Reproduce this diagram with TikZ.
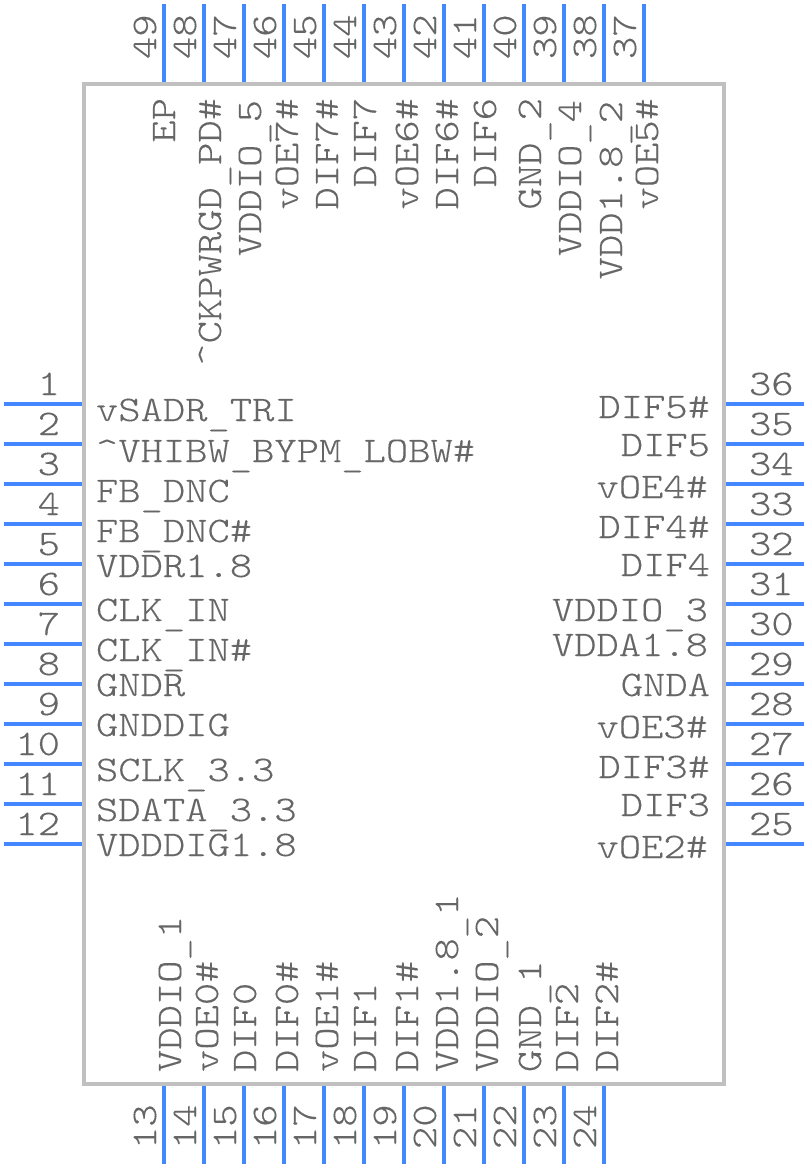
\documentclass[tikz,border=0pt]{standalone}
\usepackage{fontspec}
\usepackage{tikz}
\newfontfamily\pinfont{Latin Modern Mono Light}[FakeStretch=1.18,FakeBold=0.25]
\newcommand{\usc}{\raisebox{-4pt}{\_}}
\definecolor{pinblue}{HTML}{4488FF}
\definecolor{bodygray}{HTML}{C0C0C0}
\definecolor{textgray}{HTML}{666666}
\tikzset{
  pinline/.style={draw=pinblue, line width=4pt},
  body/.style={draw=bodygray, line width=4pt, minimum width=640pt, minimum height=1000pt, inner sep=0pt},
  lbl/.style={text=textgray, inner sep=0pt, outer sep=0pt, font=\pinfont\fontsize{36}{36}\selectfont},
  numl/.style={lbl, anchor=base east},
  numr/.style={lbl, anchor=base west},
  numv/.style={lbl, anchor=base west, rotate=90},
  namel/.style={lbl, anchor=base west},
  namer/.style={lbl, anchor=base east},
  namet/.style={lbl, anchor=base east, rotate=90},
  nameb/.style={lbl, anchor=base west, rotate=90}
}
\begin{document}
\begin{tikzpicture}[x=1pt, y=-1pt]
\useasboundingbox (0,0) rectangle (808,1168);
% left pins
\coordinate (a1) at (4,404); \coordinate (b1) at (84,404); \draw[pinline] (a1) -- (b1);
\coordinate (a2) at (4,444); \coordinate (b2) at (84,444); \draw[pinline] (a2) -- (b2);
\coordinate (a3) at (4,484); \coordinate (b3) at (84,484); \draw[pinline] (a3) -- (b3);
\coordinate (a4) at (4,524); \coordinate (b4) at (84,524); \draw[pinline] (a4) -- (b4);
\coordinate (a5) at (4,564); \coordinate (b5) at (84,564); \draw[pinline] (a5) -- (b5);
\coordinate (a6) at (4,604); \coordinate (b6) at (84,604); \draw[pinline] (a6) -- (b6);
\coordinate (a7) at (4,644); \coordinate (b7) at (84,644); \draw[pinline] (a7) -- (b7);
\coordinate (a8) at (4,684); \coordinate (b8) at (84,684); \draw[pinline] (a8) -- (b8);
\coordinate (a9) at (4,724); \coordinate (b9) at (84,724); \draw[pinline] (a9) -- (b9);
\coordinate (a10) at (4,764); \coordinate (b10) at (84,764); \draw[pinline] (a10) -- (b10);
\coordinate (a11) at (4,804); \coordinate (b11) at (84,804); \draw[pinline] (a11) -- (b11);
\coordinate (a12) at (4,844); \coordinate (b12) at (84,844); \draw[pinline] (a12) -- (b12);
% bottom pins
\coordinate (a13) at (164,1164); \coordinate (b13) at (164,1084); \draw[pinline] (a13) -- (b13);
\coordinate (a14) at (204,1164); \coordinate (b14) at (204,1084); \draw[pinline] (a14) -- (b14);
\coordinate (a15) at (244,1164); \coordinate (b15) at (244,1084); \draw[pinline] (a15) -- (b15);
\coordinate (a16) at (284,1164); \coordinate (b16) at (284,1084); \draw[pinline] (a16) -- (b16);
\coordinate (a17) at (324,1164); \coordinate (b17) at (324,1084); \draw[pinline] (a17) -- (b17);
\coordinate (a18) at (364,1164); \coordinate (b18) at (364,1084); \draw[pinline] (a18) -- (b18);
\coordinate (a19) at (404,1164); \coordinate (b19) at (404,1084); \draw[pinline] (a19) -- (b19);
\coordinate (a20) at (444,1164); \coordinate (b20) at (444,1084); \draw[pinline] (a20) -- (b20);
\coordinate (a21) at (484,1164); \coordinate (b21) at (484,1084); \draw[pinline] (a21) -- (b21);
\coordinate (a22) at (524,1164); \coordinate (b22) at (524,1084); \draw[pinline] (a22) -- (b22);
\coordinate (a23) at (564,1164); \coordinate (b23) at (564,1084); \draw[pinline] (a23) -- (b23);
\coordinate (a24) at (604,1164); \coordinate (b24) at (604,1084); \draw[pinline] (a24) -- (b24);
% right pins
\coordinate (a25) at (804,844); \coordinate (b25) at (724,844); \draw[pinline] (a25) -- (b25);
\coordinate (a26) at (804,804); \coordinate (b26) at (724,804); \draw[pinline] (a26) -- (b26);
\coordinate (a27) at (804,764); \coordinate (b27) at (724,764); \draw[pinline] (a27) -- (b27);
\coordinate (a28) at (804,724); \coordinate (b28) at (724,724); \draw[pinline] (a28) -- (b28);
\coordinate (a29) at (804,684); \coordinate (b29) at (724,684); \draw[pinline] (a29) -- (b29);
\coordinate (a30) at (804,644); \coordinate (b30) at (724,644); \draw[pinline] (a30) -- (b30);
\coordinate (a31) at (804,604); \coordinate (b31) at (724,604); \draw[pinline] (a31) -- (b31);
\coordinate (a32) at (804,564); \coordinate (b32) at (724,564); \draw[pinline] (a32) -- (b32);
\coordinate (a33) at (804,524); \coordinate (b33) at (724,524); \draw[pinline] (a33) -- (b33);
\coordinate (a34) at (804,484); \coordinate (b34) at (724,484); \draw[pinline] (a34) -- (b34);
\coordinate (a35) at (804,444); \coordinate (b35) at (724,444); \draw[pinline] (a35) -- (b35);
\coordinate (a36) at (804,404); \coordinate (b36) at (724,404); \draw[pinline] (a36) -- (b36);
% top pins
\coordinate (a37) at (644,4); \coordinate (b37) at (644,84); \draw[pinline] (a37) -- (b37);
\coordinate (a38) at (604,4); \coordinate (b38) at (604,84); \draw[pinline] (a38) -- (b38);
\coordinate (a39) at (564,4); \coordinate (b39) at (564,84); \draw[pinline] (a39) -- (b39);
\coordinate (a40) at (524,4); \coordinate (b40) at (524,84); \draw[pinline] (a40) -- (b40);
\coordinate (a41) at (484,4); \coordinate (b41) at (484,84); \draw[pinline] (a41) -- (b41);
\coordinate (a42) at (444,4); \coordinate (b42) at (444,84); \draw[pinline] (a42) -- (b42);
\coordinate (a43) at (404,4); \coordinate (b43) at (404,84); \draw[pinline] (a43) -- (b43);
\coordinate (a44) at (364,4); \coordinate (b44) at (364,84); \draw[pinline] (a44) -- (b44);
\coordinate (a45) at (324,4); \coordinate (b45) at (324,84); \draw[pinline] (a45) -- (b45);
\coordinate (a46) at (284,4); \coordinate (b46) at (284,84); \draw[pinline] (a46) -- (b46);
\coordinate (a47) at (244,4); \coordinate (b47) at (244,84); \draw[pinline] (a47) -- (b47);
\coordinate (a48) at (204,4); \coordinate (b48) at (204,84); \draw[pinline] (a48) -- (b48);
\coordinate (a49) at (164,4); \coordinate (b49) at (164,84); \draw[pinline] (a49) -- (b49);
% package outline
\node[body] (ic) at (404,584) {};
% pin numbers
\node[numl] (n1) at (60,395) {1};
\node[numl] (n2) at (60,435) {2};
\node[numl] (n3) at (60,475) {3};
\node[numl] (n4) at (60,515) {4};
\node[numl] (n5) at (60,555) {5};
\node[numl] (n6) at (60,595) {6};
\node[numl] (n7) at (60,635) {7};
\node[numl] (n8) at (60,675) {8};
\node[numl] (n9) at (60,715) {9};
\node[numl] (n10) at (60,755) {10};
\node[numl] (n11) at (60,795) {11};
\node[numl] (n12) at (60,835) {12};
\node[numv] (n13) at (156,1149) {13};
\node[numv] (n14) at (196,1149) {14};
\node[numv] (n15) at (236,1149) {15};
\node[numv] (n16) at (276,1149) {16};
\node[numv] (n17) at (316,1149) {17};
\node[numv] (n18) at (356,1149) {18};
\node[numv] (n19) at (396,1149) {19};
\node[numv] (n20) at (436,1149) {20};
\node[numv] (n21) at (476,1149) {21};
\node[numv] (n22) at (516,1149) {22};
\node[numv] (n23) at (556,1149) {23};
\node[numv] (n24) at (596,1149) {24};
\node[numr] (n25) at (749,835) {25};
\node[numr] (n26) at (749,795) {26};
\node[numr] (n27) at (749,755) {27};
\node[numr] (n28) at (749,715) {28};
\node[numr] (n29) at (749,675) {29};
\node[numr] (n30) at (749,635) {30};
\node[numr] (n31) at (749,595) {31};
\node[numr] (n32) at (749,555) {32};
\node[numr] (n33) at (749,515) {33};
\node[numr] (n34) at (749,475) {34};
\node[numr] (n35) at (749,435) {35};
\node[numr] (n36) at (749,395) {36};
\node[numv] (n37) at (636,59) {37};
\node[numv] (n38) at (596,59) {38};
\node[numv] (n39) at (556,59) {39};
\node[numv] (n40) at (516,59) {40};
\node[numv] (n41) at (476,59) {41};
\node[numv] (n42) at (436,59) {42};
\node[numv] (n43) at (396,59) {43};
\node[numv] (n44) at (356,59) {44};
\node[numv] (n45) at (316,59) {45};
\node[numv] (n46) at (276,59) {46};
\node[numv] (n47) at (236,59) {47};
\node[numv] (n48) at (196,59) {48};
\node[numv] (n49) at (156,59) {49};
% pin names
\node[namel] (l1) at (96,421) {vSADR\usc TRI};
\node[namel] (l2) at (96,462) {\textasciicircum VHIBW\usc BYPM\usc LOBW\#};
\node[namel] (l3) at (96,502) {FB\usc DNC};
\node[namel] (l4) at (96,542) {FB\usc DNC\#};
\node[namel] (l5) at (96,577) {VDDR1.8};
\node[namel] (l6) at (96,621) {CLK\usc IN};
\node[namel] (l7) at (96,661) {CLK\usc IN\#};
\node[namel] (l8) at (96,696) {GNDR};
\node[namel] (l9) at (96,736) {GNDDIG};
\node[namel] (l10) at (96,781) {SCLK\usc 3.3};
\node[namel] (l11) at (96,821) {SDATA\usc 3.3};
\node[namel] (l12) at (96,856) {VDDDIG1.8};
\node[nameb] (l13) at (181,1072) {VDDIO\usc 1};
\node[nameb] (l14) at (218,1072) {vOE0\#};
\node[nameb] (l15) at (256,1072) {DIF0};
\node[nameb] (l16) at (298,1072) {DIF0\#};
\node[nameb] (l17) at (338,1072) {vOE1\#};
\node[nameb] (l18) at (376,1072) {DIF1};
\node[nameb] (l19) at (418,1072) {DIF1\#};
\node[nameb] (l20) at (458,1072) {VDD1.8\usc 1};
\node[nameb] (l21) at (498,1072) {VDDIO\usc 2};
\node[nameb] (l22) at (541,1072) {GND\usc 1};
\node[nameb] (l23) at (578,1072) {DIF2};
\node[nameb] (l24) at (618,1072) {DIF2\#};
\node[namer] (l25) at (708,858) {vOE2\#};
\node[namer] (l26) at (710,816) {DIF3};
\node[namer] (l27) at (710,778) {DIF3\#};
\node[namer] (l28) at (708,738) {vOE3\#};
\node[namer] (l29) at (710,696) {GNDA};
\node[namer] (l30) at (708,656) {VDDA1.8};
\node[namer] (l31) at (708,621) {VDDIO\usc 3};
\node[namer] (l32) at (710,576) {DIF4};
\node[namer] (l33) at (710,538) {DIF4\#};
\node[namer] (l34) at (708,498) {vOE4\#};
\node[namer] (l35) at (710,456) {DIF5};
\node[namer] (l36) at (710,418) {DIF5\#};
\node[namet] (l37) at (658,98) {vOE5\#};
\node[namet] (l38) at (622,101) {VDD1.8\usc 2};
\node[namet] (l39) at (581,100) {VDDIO\usc 4};
\node[namet] (l40) at (541,98) {GND\usc 2};
\node[namet] (l41) at (496,98) {DIF6};
\node[namet] (l42) at (458,98) {DIF6\#};
\node[namet] (l43) at (418,98) {vOE6\#};
\node[namet] (l44) at (376,98) {DIF7};
\node[namet] (l45) at (338,98) {DIF7\#};
\node[namet] (l46) at (298,98) {vOE7\#};
\node[namet] (l47) at (261,100) {VDDIO\usc 5};
\node[namet] (l48) at (221,98) {\textasciicircum CKPWRGD\usc PD\#};
\node[namet] (l49) at (175,98) {EP};
\end{tikzpicture}
\end{document}
